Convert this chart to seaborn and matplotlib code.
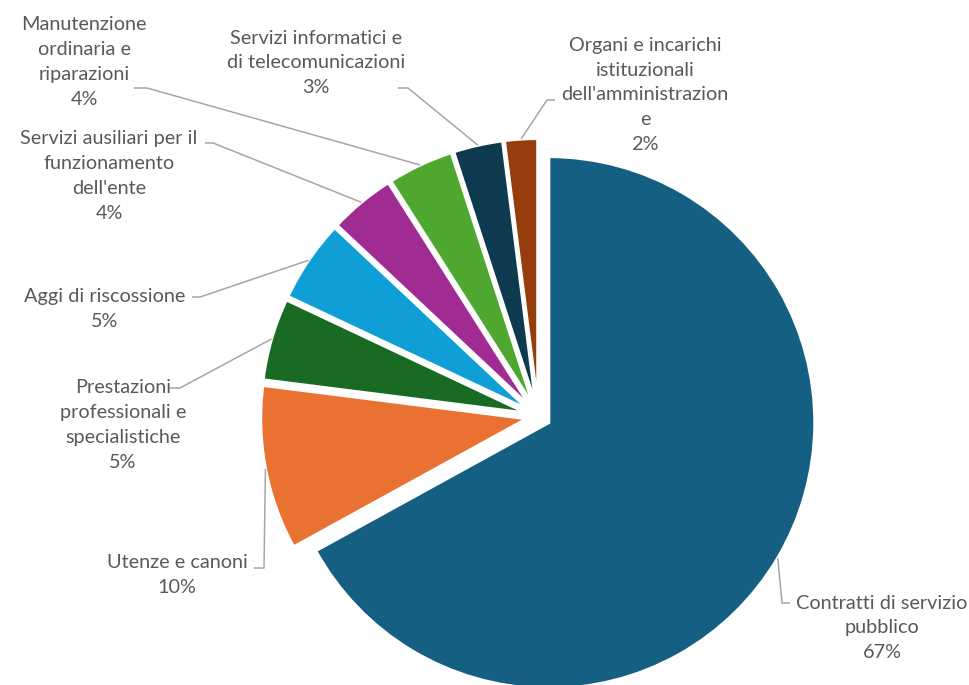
import numpy as np
import matplotlib
matplotlib.use("Agg")
import matplotlib.pyplot as plt
import seaborn as sns

# ---- data ----
categories = [
    "Contratti di servizio\npubblico",
    "Utenze e canoni",
    "Prestazioni\nprofessionali e\nspecialistiche",
    "Aggi di riscossione",
    "Servizi ausiliari per il\nfunzionamento\ndell'ente",
    "Manutenzione\nordinaria e\nriparazioni",
    "Servizi informatici e\ndi telecomunicazioni",
    "Organi e incarichi\nistituzionali\ndell'amministrazion\ne",
]
values = [67, 10, 5, 5, 4, 4, 3, 2]
colors = ["#156082", "#E97132", "#196B24", "#0F9ED5",
          "#A02B93", "#4EA72E", "#0E3A50", "#953D0C"]

# ---- layout (pixel positions, top-left origin) ----
label_pos = [(882, 628), (177, 575), (123, 425), (105, 309),
             (109, 176), (84, 62), (316, 63), (645, 95)]
knee_pos = [(782, 603), (264, 568), (180, 388), (200, 297),
            (213, 143), (147, 88), (408, 88), (547, 100)]
end_pos = [(790, 603), (254, 568), (170, 388), (192, 297),
           (205, 143), (134, 88), (398, 88), (555, 100)]

W, H = 969, 685
CX, CY, R = 538.5, 416.5, 266.0

sns.set_theme(style="white")
plt.rcParams['font.family'] = ['Lato', 'DejaVu Sans']

fig = plt.figure(figsize=(W / 100, H / 100), dpi=100)
ax = fig.add_axes([0, 0, 1, 1])
palette = sns.color_palette(colors)

wedges, _ = ax.pie(values, colors=palette, startangle=90, counterclock=False,
                   explode=[0.045] * len(values), radius=1.0,
                   wedgeprops=dict(edgecolor="white", linewidth=2.2))
ax.set_xlim(-CX / R, (W - CX) / R)
ax.set_ylim(-(H - CY) / R, CY / R)
ax.set_aspect("equal")
ax.axis("off")

inv = ax.transData.inverted()


def px2data(p):
    return inv.transform((p[0], H - p[1]))


total = sum(values)
for w, cat, v, lp, kp, ep in zip(wedges, categories, values, label_pos, knee_pos, end_pos):
    th = np.deg2rad((w.theta1 + w.theta2) / 2)
    cx, cy = w.center
    start = (cx + w.r * np.cos(th), cy + w.r * np.sin(th))
    k = px2data(kp)
    e = px2data(ep)
    ax.plot([start[0], k[0], e[0]], [start[1], k[1], e[1]],
            color="#A6A6A6", lw=1.1, solid_capstyle="butt", zorder=1)
    t = px2data(lp)
    ax.text(t[0], t[1], f"{cat}\n{v / total * 100:.0f}%", ha="center", va="center",
            fontsize=14.3, color="#595959", linespacing=1.56, multialignment="center")

fig.savefig("out.png", dpi=100, facecolor="white")
